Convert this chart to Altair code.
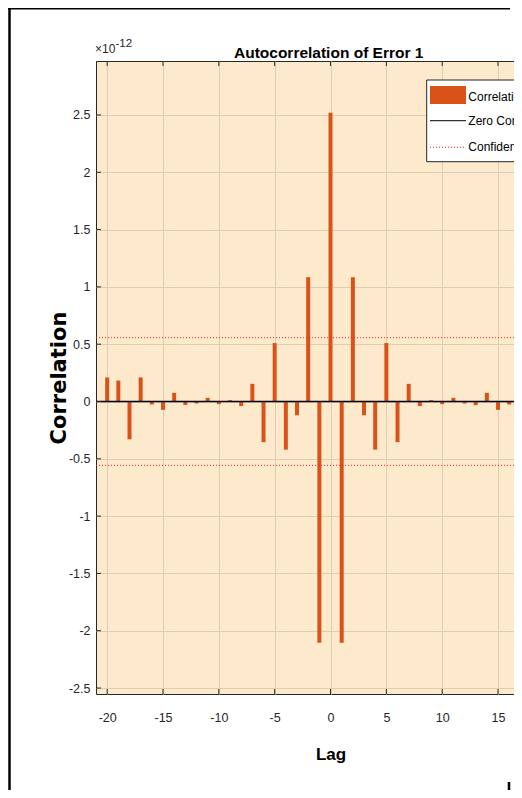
import altair as alt
import pandas as pd

# ---------------- data (values in units of 1e-12) ----------------
lags = list(range(-20, 21))
correlation = [0.21, 0.183, -0.33, 0.21, -0.026, -0.073, 0.076, -0.03, -0.017, 0.032,
               -0.023, 0.012, -0.04, 0.154, -0.355, 0.51, -0.42, -0.12, 1.085, -2.105,
               2.52,
               -2.105, 1.085, -0.12, -0.42, 0.51, -0.355, 0.154, -0.04, 0.012, -0.023,
               0.032, -0.017, -0.032, 0.076, -0.073, -0.026, 0.21, -0.33, 0.183, 0.21]
conf_bound = 0.557
x_tick_values = [-20, -15, -10, -5, 0, 5, 10, 15, 20]
y_tick_values = [-2.5, -2.0, -1.5, -1.0, -0.5, 0.0, 0.5, 1.0, 1.5, 2.0, 2.5]
legend_labels = ["Correlation", "Zero Correlation", "Confidence Bounds"]
title_text = "Autocorrelation of Error 1"
# visible window of the (cropped) figure: axis runs -21..21, right part is cut off
x_domain = [-21, 16.43]
y_domain = [-2.552, 2.971]

# ---------------- style ----------------
W, H = 418, 633
FONT = "Liberation Sans, Arial, sans-serif"
AXIS_COLOR = "#262626"
BAR_COLOR = "#D95319"
BG = "#FDEACC"
GRID = "#DDCDB3"
CONF_COLOR = "#FF1A1A"
CENTER_X = 234.5   # centre of the full (uncropped) axes

df = pd.DataFrame({"lag": lags, "corr": correlation})
bounds_df = pd.DataFrame({"bound": [conf_bound, -conf_bound]})
x_visible = [v for v in x_tick_values if x_domain[0] <= v <= x_domain[1]]
xt_df = pd.DataFrame({"t": x_visible})
yt_df = pd.DataFrame({"t": y_tick_values})
one = pd.DataFrame({"k": [0]})

xs = alt.Scale(domain=x_domain, nice=False, zero=False, padding=0)
ys = alt.Scale(domain=y_domain, nice=False, zero=False, padding=0)

x_axis = alt.Axis(
    values=x_visible, grid=True, gridColor=GRID, gridWidth=1,
    ticks=False, tickSize=0, domain=False,
    labelExpr="datum.value + ''", labelFont=FONT, labelFontSize=12.5,
    labelColor=AXIS_COLOR, labelPadding=17, labelFlush=False, labelOverlap=False,
    title="Lag", titleFont=FONT, titleFontSize=17, titleFontWeight="bold",
    titleColor="#000000", titleX=CENTER_X, titleY=65, titleBaseline="alphabetic",
    titleAlign="center",
)
y_axis = alt.Axis(
    values=y_tick_values, grid=True, gridColor=GRID, gridWidth=1,
    ticks=False, tickSize=0, domain=False,
    labelExpr="datum.value + ''", labelFont=FONT, labelFontSize=12.5,
    labelColor=AXIS_COLOR, labelPadding=6, labelFlush=False, labelOverlap=False,
    title="Correlation", titleFont="DejaVu Sans", titleFontSize=21,
    titleFontWeight="bold", titleColor="#000000", titleAngle=270,
    titleX=-30.5, titleY=H / 2, titleBaseline="alphabetic", titleAlign="center",
)

bars = alt.Chart(df).mark_bar(size=4, color=BAR_COLOR, clip=True).encode(
    x=alt.X("lag:Q", scale=xs, axis=x_axis),
    y=alt.Y("corr:Q", scale=ys, axis=y_axis),
    y2=alt.datum(0),
)

zero_line = alt.Chart(one).mark_rule(color="black", strokeWidth=1.5).encode(
    y=alt.datum(0)
)

conf_lines = alt.Chart(bounds_df).mark_rule(
    color=CONF_COLOR, strokeWidth=1, strokeDash=[1, 2]
).encode(y=alt.Y("bound:Q", scale=ys))

# inward ticks (MATLAB style, box on)
xt_bottom = alt.Chart(xt_df).mark_rule(color=AXIS_COLOR, strokeWidth=1, clip=True).encode(
    x=alt.X("t:Q", scale=xs), y=alt.value(H), y2=alt.value(H - 5)
)
xt_top = alt.Chart(xt_df).mark_rule(color=AXIS_COLOR, strokeWidth=1, clip=True).encode(
    x=alt.X("t:Q", scale=xs), y=alt.value(0), y2=alt.value(5)
)
yt_left = alt.Chart(yt_df).mark_rule(color=AXIS_COLOR, strokeWidth=1, clip=True).encode(
    y=alt.Y("t:Q", scale=ys), x=alt.value(0), x2=alt.value(5)
)

# legend (drawn by hand, MATLAB-like, cut at the right edge as in the figure)
leg_box = alt.Chart(one).mark_rect(fill="white", stroke=AXIS_COLOR, strokeWidth=1).encode(
    x=alt.value(330.7), x2=alt.value(440), y=alt.value(19), y2=alt.value(100.7)
)
leg_patch = alt.Chart(one).mark_rect(fill=BAR_COLOR).encode(
    x=alt.value(334), x2=alt.value(370), y=alt.value(25), y2=alt.value(43)
)
leg_zero = alt.Chart(one).mark_rule(color="black", strokeWidth=1).encode(
    x=alt.value(334), x2=alt.value(370), y=alt.value(59.7)
)
leg_conf = alt.Chart(one).mark_rule(color=CONF_COLOR, strokeWidth=1, strokeDash=[1, 2]).encode(
    x=alt.value(334), x2=alt.value(370), y=alt.value(86.3)
)
leg_texts = [
    alt.Chart(one).mark_text(align="left", baseline="middle", font=FONT,
                             fontSize=12, color="#000000").encode(
        x=alt.value(372.3), y=alt.value(yy), text=alt.value(lbl))
    for lbl, yy in zip(legend_labels, [35.5, 59.5, 85.5])
]

# title
title_mark = alt.Chart(one).mark_text(align="center", baseline="alphabetic", font=FONT,
                                      fontSize=15.5, fontWeight="bold", color="#000000").encode(
    x=alt.value(232.7), y=alt.value(-3), text=alt.value(title_text))

# exponent label  x10^-12
expo_base = alt.Chart(one).mark_text(align="left", baseline="alphabetic", font=FONT,
                                     fontSize=12, color=AXIS_COLOR).encode(
    x=alt.value(-1), y=alt.value(-7.7), text=alt.value("\u00d710"))
expo_pow = alt.Chart(one).mark_text(align="left", baseline="alphabetic", font=FONT,
                                    fontSize=11.5, color=AXIS_COLOR).encode(
    x=alt.value(19.5), y=alt.value(-14.3), text=alt.value("-12"))

# outer figure frame lines
frame_left = alt.Chart(one).mark_rule(color="black", strokeWidth=2.5).encode(
    x=alt.value(-86.5), y=alt.value(-53), y2=alt.value(729))
frame_top = alt.Chart(one).mark_rule(color="black", strokeWidth=1.5).encode(
    y=alt.value(-52.3), x=alt.value(-88), x2=alt.value(414))
frame_br = alt.Chart(one).mark_rule(color="black", strokeWidth=2.5).encode(
    x=alt.value(413), y=alt.value(721), y2=alt.value(729))

chart = alt.layer(
    bars, zero_line, conf_lines, xt_bottom, xt_top, yt_left,
    leg_box, leg_patch, leg_zero, leg_conf, *leg_texts,
    title_mark, expo_base, expo_pow, frame_left, frame_top, frame_br,
).properties(
    width=W, height=H,
    padding={"left": 88, "top": 53, "right": 0, "bottom": 96},
    autosize=alt.AutoSizeParams(type="none"),
    background="white",
).configure_view(
    fill=BG, stroke=AXIS_COLOR, strokeWidth=1
)

chart.save("out.html", embed_options={"renderer": "svg", "actions": False})
